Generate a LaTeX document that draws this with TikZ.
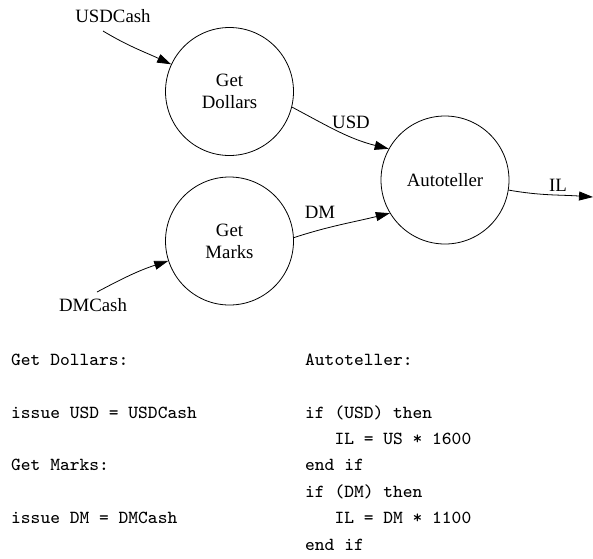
\documentclass[tikz,border=0pt]{standalone}
\usepackage{fontspec}
\setmainfont{Liberation Serif}
\newfontfamily\codefont{lmmono8-regular.otf}
\usetikzlibrary{arrows.meta}
\begin{document}
\begin{tikzpicture}[x=1pt,y=1pt,
  proc/.style={draw, circle, minimum size=128pt, inner sep=0pt, line width=0.8pt,
               align=center, font=\fontsize{18.8}{22}\selectfont},
  lbl/.style={inner sep=0pt, font=\fontsize{18.8}{22}\selectfont},
  flow/.style={line width=0.8pt, -{Triangle[length=14pt,width=9pt]}},
  code/.style={anchor=base west, inner sep=0pt, font=\fontsize{18.4}{26}\codefont}]
\useasboundingbox (0,0) rectangle (593,-558);

% processes
\node[proc] (dollars) at (229.5,-91.5) {Get\\Dollars};
\node[proc] (marks)   at (229.5,-241)  {Get\\Marks};
\node[proc] (auto)    at (445,-180)    {Autoteller};

% external inputs and output
\node[lbl] (usdcash) at (113,-16)  {USDCash};
\node[lbl] (dmcash)  at (93,-305)  {DMCash};
\coordinate (usdsrc) at (103,-31);
\coordinate (dmsrc)  at (97,-292);
\coordinate (ilend)  at (593,-197);

% flows
\draw[flow] (usdsrc) to[out=-31,in=155] (dollars.155);
\draw[flow] (dmsrc) to[out=28,in=198] (marks.198);
\draw[flow] (dollars.-14) to[out=-28,in=166] (auto.151);
\draw[flow] (marks.3) to[out=18,in=194] (auto.211);
\draw[flow] (auto.-9) to[out=-10,in=176] (ilend);

% flow labels
\node[lbl] (usdl) at (351,-122) {USD};
\node[lbl] (dml)  at (320,-212) {DM};
\node[lbl] (ill)  at (558,-185) {IL};

% process specifications
\node[code] (s1) at (11,-365) {Get Dollars:};
\node[code] (s2) at (11,-418) {issue USD = USDCash};
\node[code] (s3) at (11,-470.5) {Get Marks:};
\node[code] (s4) at (11,-523.5) {issue DM = DMCash};

\node[code] (a1) at (305,-365) {Autoteller:};
\node[code] (a2) at (305,-418) {if (USD) then};
\node[code] (a3) at (305,-444) {\ \ \ IL = US * 1600};
\node[code] (a4) at (305,-470.5) {end if};
\node[code] (a5) at (305,-497) {if (DM) then};
\node[code] (a6) at (305,-523.5) {\ \ \ IL = DM * 1100};
\node[code] (a7) at (305,-550) {end if};
\end{tikzpicture}
\end{document}
